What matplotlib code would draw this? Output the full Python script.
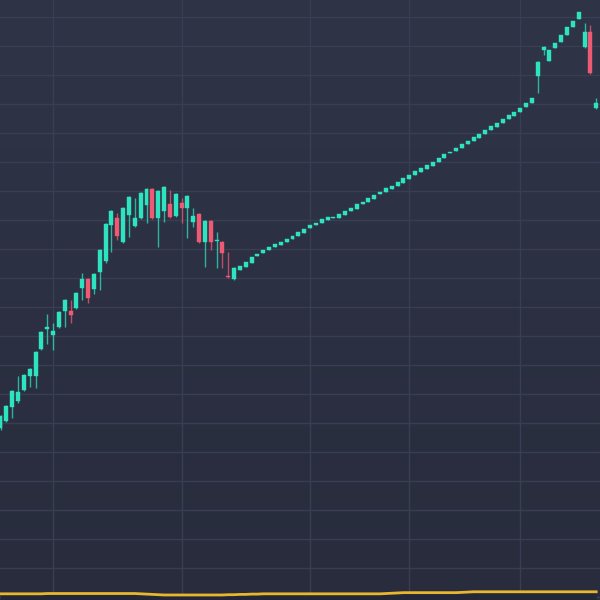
import matplotlib
matplotlib.use("Agg")
import matplotlib.pyplot as plt
import numpy as np
from matplotlib.patches import Rectangle
from matplotlib.colors import LinearSegmentedColormap

# ---------------- data ----------------
opens = [68.3, 70.7, 75.5, 77.6, 81.4, 86.2, 86.2, 95.5, 102.4, 100.3,
         103.1, 108.6, 108.6, 109.7, 116.6, 119.7, 116.2, 122.1, 125.9, 138.3,
         140.7, 132.4, 141.7, 137.9, 140.7, 145.2, 150.7, 140.7, 143.1, 145.5,
         141.4, 145.9, 144.1, 139.3, 142.1, 132.4, 139.7, 132.6, 132.4, 120.6,
         119.7, 122.8, 123.8, 125.2, 127.6, 128.6, 129.7, 130.7, 131.4, 132.4,
         133.4, 134.5, 135.5, 137.2, 138.3, 139.0, 140.0, 140.7, 140.7, 141.7,
         143.1, 143.8, 145.5, 146.2, 147.2, 149.0, 149.7, 150.7, 151.7, 152.8,
         154.1, 155.5, 156.6, 157.6, 158.6, 160.0, 161.4, 163.1, 163.8, 164.8,
         166.2, 167.2, 168.3, 169.7, 171.0, 172.1, 173.4, 174.8, 175.9, 177.2,
         179.0, 180.3, 189.7, 198.6, 194.8, 199.3, 201.4, 203.8, 206.6, 209.3,
         199.7, 204.8, 178.6]
closes = [72.4, 75.9, 81.0, 80.7, 86.6, 88.6, 94.5, 101.4, 103.1, 101.7,
          108.3, 112.4, 107.2, 114.8, 119.7, 113.1, 121.4, 129.7, 138.6, 143.1,
          134.5, 144.1, 147.9, 140.7, 149.3, 150.7, 140.7, 150.0, 151.4, 141.0,
          149.0, 144.1, 148.3, 141.4, 132.4, 139.7, 132.4, 133.0, 128.6, 120.3,
          123.4, 124.1, 125.5, 127.2, 128.3, 129.7, 130.7, 131.7, 132.4, 133.4,
          134.5, 135.9, 136.9, 138.3, 139.0, 140.3, 141.0, 141.0, 142.1, 143.1,
          144.1, 145.5, 146.2, 147.6, 148.6, 149.7, 151.0, 151.7, 153.1, 154.5,
          155.5, 156.9, 157.9, 159.0, 160.0, 161.4, 162.8, 163.4, 164.8, 166.2,
          167.2, 168.6, 169.7, 171.0, 172.4, 173.4, 174.8, 176.2, 177.2, 178.6,
          180.3, 182.1, 194.5, 199.7, 198.6, 201.0, 203.8, 206.6, 208.6, 211.7,
          204.8, 190.7, 180.3]
highs = [72.8, 76.2, 81.4, 86.2, 87.0, 89.0, 94.8, 101.7, 107.6, 104.5,
         108.6, 112.8, 112.4, 115.2, 121.7, 120.0, 121.7, 130.0, 139.0, 143.4,
         142.4, 144.5, 148.3, 147.6, 149.7, 151.0, 151.0, 150.3, 151.7, 150.3,
         149.3, 147.6, 148.6, 144.1, 142.4, 140.0, 140.0, 135.9, 132.8, 129.0,
         123.8, 124.1, 125.5, 127.2, 128.3, 129.7, 130.7, 131.7, 132.4, 133.4,
         134.5, 135.9, 136.9, 138.3, 139.0, 140.3, 141.0, 141.0, 142.1, 143.1,
         144.1, 145.5, 146.2, 147.6, 148.6, 149.7, 151.0, 151.7, 153.1, 154.5,
         155.5, 156.9, 157.9, 159.0, 160.0, 161.4, 162.8, 163.4, 164.8, 166.2,
         167.2, 168.6, 169.7, 171.0, 172.4, 173.4, 174.8, 176.2, 177.2, 178.6,
         180.3, 182.1, 194.8, 200.0, 198.6, 201.0, 203.8, 206.6, 208.6, 211.7,
         207.9, 207.2, 182.1]
lows = [67.6, 70.3, 71.7, 77.0, 81.0, 82.4, 82.1, 95.2, 97.2, 95.2,
        102.8, 103.1, 104.5, 109.3, 112.4, 111.4, 114.5, 115.9, 125.2, 129.0,
        133.1, 132.1, 134.1, 137.6, 140.3, 139.0, 140.3, 130.7, 139.3, 140.7,
        141.0, 139.0, 133.8, 137.6, 132.1, 123.8, 129.7, 123.4, 123.4, 120.0,
        119.3, 122.8, 123.8, 125.2, 127.6, 128.6, 129.7, 130.7, 131.4, 132.4,
        133.4, 134.5, 135.5, 137.2, 138.3, 139.0, 140.0, 140.7, 140.7, 141.7,
        143.1, 143.8, 145.5, 146.2, 147.2, 149.0, 149.7, 150.7, 151.7, 152.8,
        154.1, 155.5, 156.6, 157.6, 158.6, 160.0, 161.4, 163.1, 163.8, 164.8,
        166.2, 167.2, 168.3, 169.7, 171.0, 172.1, 173.4, 174.8, 175.9, 177.2,
        179.0, 180.3, 183.8, 196.9, 194.8, 199.3, 201.4, 203.8, 206.6, 209.3,
        199.3, 190.3, 178.3]
line_values = [11.1, 11.1, 11.1, 11.1, 11.1, 11.1, 11.1, 11.1, 11.2, 11.2,
               11.2, 11.2, 11.2, 11.2, 11.2, 11.2, 11.2, 11.2, 11.2, 11.2,
               11.2, 11.2, 11.2, 11.2, 11.1, 11.0, 10.9, 10.8, 10.7, 10.7,
               10.7, 10.7, 10.7, 10.7, 10.7, 10.7, 10.7, 10.7, 10.7, 10.8,
               10.8, 10.9, 10.9, 11.0, 11.0, 11.1, 11.1, 11.1, 11.1, 11.1,
               11.1, 11.1, 11.1, 11.1, 11.1, 11.1, 11.1, 11.1, 11.1, 11.1,
               11.1, 11.1, 11.1, 11.1, 11.1, 11.1, 11.2, 11.3, 11.4, 11.5,
               11.5, 11.5, 11.5, 11.5, 11.5, 11.5, 11.5, 11.5, 11.5, 11.6,
               11.7, 11.8, 11.8, 11.8, 11.8, 11.8, 11.8, 11.8, 11.8, 11.8,
               11.8, 11.8, 11.8, 11.8, 11.8, 11.8, 11.8, 11.8, 11.8, 11.8,
               11.8, 11.8, 11.8]
vgrid_positions = [9, 31, 53, 70, 89]
hgrid_levels = list(range(10, 220, 10))

# ---------------- style ----------------
UP = "#2ee3bf"
DOWN = "#ee5a74"
BG_TOP = "#2f3447"
BG_BOT = "#282c3d"
GRID = "#383e54"

fig = plt.figure(figsize=(6, 6), dpi=100)
ax = fig.add_axes([0, 0, 1, 1])
n = len(opens)
xlim = (-0.086, 102.65)
ylim = (8.97, 215.86)
ax.set_xlim(*xlim)
ax.set_ylim(*ylim)

cmap = LinearSegmentedColormap.from_list("bg", [BG_BOT, BG_TOP])
ax.imshow(np.linspace(0, 1, 256).reshape(-1, 1), cmap=cmap, aspect="auto",
          extent=[xlim[0], xlim[1], ylim[0], ylim[1]], origin="lower", zorder=0)

for g in hgrid_levels:
    ax.axhline(g, color=GRID, lw=1.0, zorder=1)
for v in vgrid_positions:
    ax.axvline(v, color=GRID, lw=1.0, zorder=1)

width = 0.68
min_h = 0.45
for i in range(n):
    o, h, l, c = opens[i], highs[i], lows[i], closes[i]
    col = UP if c >= o else DOWN
    ax.plot([i, i], [l, h], color=col, lw=1.0, alpha=0.75, zorder=2,
            solid_capstyle="butt")
    bottom = min(o, c)
    height = max(abs(c - o), min_h)
    ax.add_patch(Rectangle((i - width / 2, bottom), width, height,
                           facecolor=col, edgecolor=col, lw=0.3, zorder=3))

xs = np.arange(n)
ax.fill_between(xs, ylim[0], line_values, color="#232838", zorder=3.5, lw=0)
ax.plot(xs, line_values, color="#e8b72e", lw=2.0, zorder=4)

ax.set_xticks([])
ax.set_yticks([])
for s in ax.spines.values():
    s.set_visible(False)

fig.savefig("out.png", dpi=100)
